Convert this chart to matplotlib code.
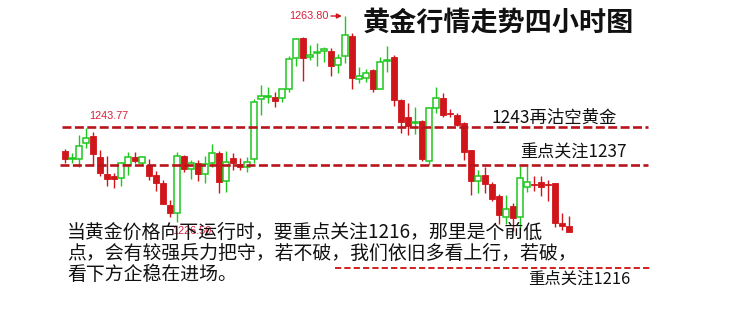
import matplotlib
matplotlib.use("Agg")
import matplotlib.pyplot as plt
from matplotlib.patches import Rectangle

plt.rcParams['font.family'] = ['Noto Sans CJK SC', 'DejaVu Sans']

# ---- data (4-hour gold candles) ----
opens = [1239.60, 1238.16, 1238.11, 1240.98, 1242.29, 1238.47, 1235.47, 1235.11, 1234.70, 1237.09,
         1238.47, 1237.39, 1237.09, 1235.29, 1233.80, 1229.91, 1228.53, 1238.70, 1236.31, 1237.39,
         1235.42, 1237.50, 1239.18, 1234.27, 1238.39, 1237.26, 1236.78, 1238.11, 1248.87, 1249.22,
         1249.33, 1249.04, 1250.66, 1256.22, 1259.80, 1256.54, 1257.22, 1257.58, 1257.53, 1255.02,
         1256.63, 1260.22, 1252.45, 1252.74, 1254.12, 1250.71, 1255.82, 1256.40, 1248.74, 1245.64,
         1244.62, 1244.97, 1237.86, 1247.25, 1249.15, 1246.41, 1246.05, 1244.56, 1239.77, 1234.27,
         1235.29, 1233.68, 1231.53, 1227.82, 1229.73, 1227.71, 1233.09, 1233.68, 1234.09, 1233.68,
         1233.80, 1226.63, 1226.20]
closes = [1238.11, 1238.34, 1240.55, 1241.93, 1239.00, 1235.70, 1234.58, 1234.63, 1237.39, 1238.57,
          1237.86, 1238.47, 1235.11, 1233.80, 1230.09, 1228.42, 1238.70, 1236.37, 1237.50, 1235.47,
          1237.21, 1239.18, 1234.09, 1237.68, 1237.50, 1236.78, 1237.68, 1248.33, 1249.51, 1249.51,
          1248.61, 1250.66, 1256.04, 1259.62, 1256.36, 1256.67, 1257.40, 1257.83, 1254.84, 1256.22,
          1260.39, 1252.74, 1253.04, 1253.63, 1250.71, 1255.50, 1256.00, 1248.74, 1244.74, 1244.13,
          1244.74, 1238.16, 1247.25, 1249.04, 1246.05, 1246.27, 1244.26, 1239.47, 1234.27, 1235.17,
          1233.68, 1230.99, 1228.12, 1229.14, 1227.53, 1234.70, 1233.98, 1233.57, 1233.19, 1233.50,
          1226.63, 1226.20, 1225.13]
highs = [1239.90, 1239.24, 1242.46, 1243.77, 1243.06, 1239.77, 1238.70, 1235.65, 1237.68, 1239.47,
         1239.47, 1238.70, 1238.11, 1236.06, 1234.40, 1230.81, 1239.47, 1238.88, 1237.98, 1237.98,
         1238.70, 1240.85, 1239.60, 1239.60, 1239.18, 1238.39, 1238.57, 1248.87, 1251.43, 1251.02,
         1250.17, 1250.66, 1256.63, 1259.80, 1260.04, 1258.60, 1258.91, 1258.19, 1258.01, 1256.99,
         1263.80, 1260.70, 1254.60, 1254.24, 1254.30, 1256.50, 1258.42, 1256.81, 1248.87, 1248.15,
         1247.43, 1245.15, 1247.40, 1251.02, 1249.94, 1247.07, 1246.36, 1244.85, 1239.77, 1236.19,
         1236.67, 1234.09, 1231.83, 1231.71, 1230.33, 1236.91, 1236.91, 1235.11, 1235.11, 1234.40,
         1233.91, 1228.42, 1227.94]
lows = [1237.39, 1237.44, 1236.78, 1240.08, 1237.09, 1235.11, 1233.32, 1233.02, 1233.32, 1235.29,
        1237.39, 1237.09, 1234.40, 1232.48, 1230.09, 1227.82, 1226.80, 1235.88, 1234.52, 1234.27,
        1233.80, 1236.78, 1232.01, 1232.30, 1236.19, 1236.19, 1235.88, 1237.39, 1246.05, 1248.15,
        1247.54, 1248.44, 1250.23, 1254.89, 1252.20, 1255.91, 1254.84, 1255.61, 1253.04, 1253.63,
        1255.32, 1250.71, 1251.73, 1252.02, 1250.23, 1250.71, 1253.81, 1247.72, 1242.77, 1242.46,
        1242.64, 1237.86, 1237.09, 1246.36, 1245.64, 1245.64, 1244.08, 1237.98, 1231.71, 1232.12,
        1232.12, 1230.68, 1226.51, 1226.51, 1225.30, 1225.43, 1232.30, 1232.48, 1231.53, 1230.68,
        1226.02, 1225.43, 1225.13]

# key price levels drawn as dashed lines
level_sell = 1243.9      # 1243 再沽空
level_watch = 1237.1     # 重点关注1237
level_low = 1218.6       # line above 重点关注1216

high_label = "1263.80"
high_idx = 40
prev_high_label = "1243.77"
prev_high_idx = 3
low_label = "1226.50"
low_idx = 16

title = "黄金行情走势四小时图"
note_sell = "1243再沽空黄金"
note_watch = "重点关注1237"
note_low = "重点关注1216"
para = ["当黄金价格向下运行时，要重点关注1216，那里是个前低",
        "点，会有较强兵力把守，若不破，我们依旧多看上行，若破，",
        "看下方企稳在进场。"]

RED = '#d0161b'
GREEN = '#1ec81e'
LINE_RED = '#b8141c'
LABEL_RED = '#d8203c'

W, H = 742, 322
fig = plt.figure(figsize=(W / 100, H / 100), dpi=100)
ax = fig.add_axes([0, 0, 1, 1])
ax.set_axis_off()
ax.set_xlim(-65 / 7, (W - 65) / 7)
ax.set_ylim(1208.94, 1266.67)

bw = 0.72
for i, (o, h, l, c) in enumerate(zip(opens, highs, lows, closes)):
    up = c >= o
    col = GREEN if up else RED
    ax.vlines(i, l, h, color=col, lw=1.0, zorder=2)
    bottom = min(o, c)
    height = max(abs(c - o), 0.18)
    if up:
        ax.add_patch(Rectangle((i - bw / 2, bottom), bw, height, facecolor='white',
                               edgecolor=col, lw=1.1, zorder=3))
    else:
        ax.add_patch(Rectangle((i - bw / 2, bottom), bw, height, facecolor=col,
                               edgecolor=col, lw=0.6, zorder=3))

# dashed level lines
ax.axhline(level_sell, xmin=62 / W, xmax=648 / W, color=LINE_RED, lw=1.9,
           dashes=(3.4, 1.3), zorder=4)
ax.axhline(level_watch, xmin=60 / W, xmax=648 / W, color=LINE_RED, lw=1.9,
           dashes=(3.4, 1.3), zorder=4)
ax.axhline(level_low, xmin=335 / W, xmax=650 / W, color='#d42020', lw=1.4,
           dashes=(3.2, 1.6), zorder=4)

# price labels
ax.text(prev_high_idx + 0.45, 1245.9, prev_high_label, color=LABEL_RED,
        fontsize=7.8, family='Liberation Sans', ha='left', va='center', zorder=5)
ax.text(high_idx - 8.0, highs[high_idx], high_label, color=LABEL_RED,
        fontsize=7.8, family='Liberation Sans', ha='left', va='center', zorder=5)
ax.annotate('', xy=(high_idx - 0.05, highs[high_idx]), xytext=(high_idx - 2.4, highs[high_idx]),
            arrowprops=dict(arrowstyle='-|>', color=RED, lw=1.0, mutation_scale=7), zorder=5)
ax.text(low_idx - 0.7, 1225.2, low_label, color=LABEL_RED,
        fontsize=7.8, family='Liberation Sans', ha='left', va='center', zorder=1)

# texts (figure pixel coordinates)
def fx(x):
    return x / W

def fy(y):
    return 1 - y / H

fig.text(fx(498), fy(23), title, fontsize=19.5, weight='bold', ha='center', va='center',
         color='#111111', zorder=6)
fig.text(fx(491), fy(118), note_sell, fontsize=12.5, ha='left', va='center', color='#111111')
fig.text(fx(520), fy(153), note_watch, fontsize=12.3, ha='left', va='center', color='#111111')
fig.text(fx(528), fy(279), note_low, fontsize=11.8, ha='left', va='center', color='#111111')
for k, line in enumerate(para):
    fig.text(fx(67), fy(232.5 + 21 * k), line, fontsize=13.6, ha='left',
             va='center', color='#111111', zorder=6)

fig.savefig('out.png', dpi=100, facecolor='white')
